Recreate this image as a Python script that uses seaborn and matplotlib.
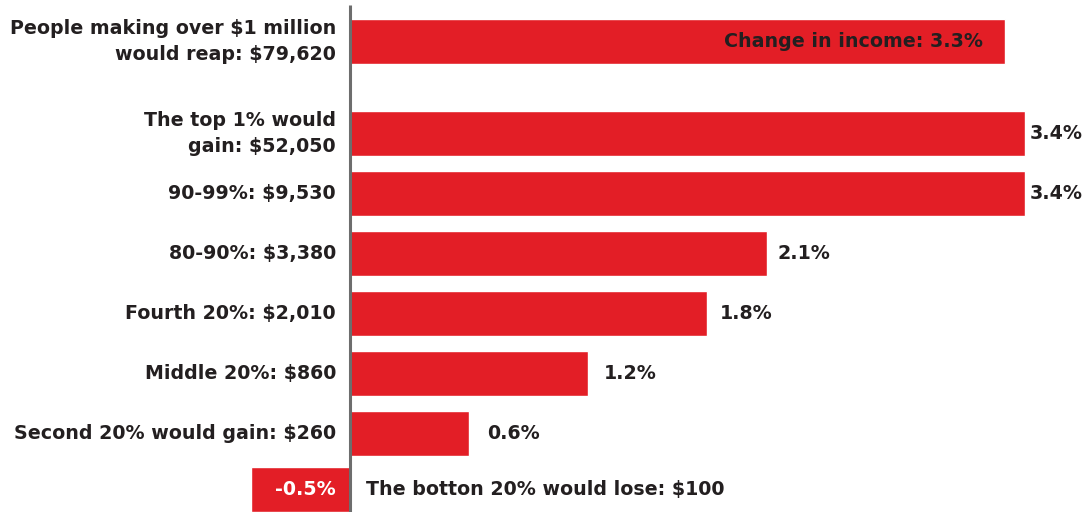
import matplotlib
matplotlib.use("Agg")
import matplotlib.pyplot as plt
import seaborn as sns
import pandas as pd

# ---- data ----
groups = [
    "People making over $1 million\nwould reap: $79,620",
    "The top 1% would\ngain: $52,050",
    "90-99%: $9,530",
    "80-90%: $3,380",
    "Fourth 20%: $2,010",
    "Middle 20%: $860",
    "Second 20% would gain: $260",
    "The botton 20% would lose: $100",
]
change_pct = [3.3, 3.4, 3.4, 2.1, 1.8, 1.2, 0.6, -0.5]
value_labels = ["Change in income: 3.3%", "3.4%", "3.4%", "2.1%", "1.8%",
                "1.2%", "0.6%", "-0.5%"]

RED = "#E31E26"
INK = "#231F20"

sns.set_theme(style="white")
plt.rcParams['font.family'] = ['DejaVu Sans']

W, H = 1082, 512
fig = plt.figure(figsize=(W / 100, H / 100), dpi=100)
fig.patch.set_facecolor("white")
ax = fig.add_axes([0, 0, 1, 1])

df = pd.DataFrame({"group": groups, "change": change_pct})
sns.barplot(data=df, x="change", y="group", order=groups, color=RED,
            saturation=1, width=0.76, orient="h", ax=ax)

PX = 198.5      # pixels per percentage point
ZERO = 350      # pixel position of zero
ROW = 60.0      # pixels per category row
ROW1 = 133.5    # pixel centre of category 1


def ypx(p):
    return (p - ROW1) / ROW + 1


def xpx(p):
    return (p - ZERO) / PX


ax.set_xlim(xpx(0), xpx(W))
ax.set_ylim(ypx(H), ypx(0))

# extra spacing for the first and last rows
centers = list(range(len(groups)))
centers[0] = ypx(41.5)
centers[-1] = ypx(489.5)
for patch, c in zip(ax.patches, centers):
    h = patch.get_height()
    patch.set_y(c - h / 2)

ax.axis("off")

# axis line
ax.plot([0, 0], [ypx(5), ypx(H)], color="#6d6d6d", lw=2.2, zorder=5,
        solid_capstyle="butt")

FS = 13.7
n = len(groups)
for i, (g, v, lab, c) in enumerate(zip(groups, change_pct, value_labels, centers)):
    if i < n - 1:
        ax.text(xpx(336), c, g, ha="right", va="center", fontsize=FS,
                fontweight="bold", color=INK, linespacing=1.5)
    if i == 0:
        ax.text(v - 22 / PX, c, lab, ha="right", va="center", fontsize=FS,
                fontweight="bold", color=INK)
    elif i == n - 1:
        ax.text(xpx(336), c, lab, ha="right", va="center", fontsize=FS,
                fontweight="bold", color="white")
        ax.text(xpx(366), c, g, ha="left", va="center", fontsize=FS,
                fontweight="bold", color=INK)
    else:
        ax.text(0.104 + 0.977 * v, c, lab, ha="left", va="center",
                fontsize=FS, fontweight="bold", color=INK)

fig.savefig("out.png", dpi=100, facecolor="white")
